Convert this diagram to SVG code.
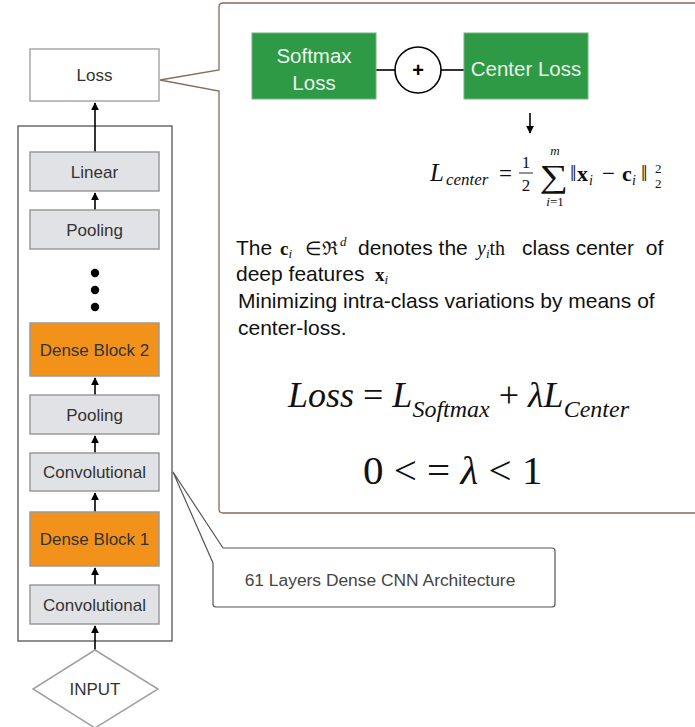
<svg xmlns="http://www.w3.org/2000/svg" width="695" height="727" viewBox="0 0 695 727">
  <style>
    .lbl { font-family: "Liberation Sans", Arial, sans-serif; font-size: 17px; fill: #333; text-anchor: middle; }
    .layer { fill: #E1E2E5; stroke: #9A9A9A; stroke-width: 1.5; }
    .dense { fill: #F3921B; stroke: #9A9A9A; stroke-width: 1.5; }
    .green { fill: #2F9A46; stroke: #6FB47F; stroke-width: 1; }
    .gtxt { font-family: "Liberation Sans", Arial, sans-serif; font-size: 20.5px; fill: #E9F4EA; text-anchor: middle; }
    .conn { stroke: #000; stroke-width: 1.6; fill: none; }
    .sans { font-family: "Liberation Sans", Arial, sans-serif; font-size: 21px; fill: #111; }
    .math { font-family: "Liberation Serif", "Times New Roman", serif; fill: #111; }
    .it { font-style: italic; }
    .bf { font-weight: bold; }
  </style>
  <defs>
    <marker id="arrow" viewBox="0 0 10 10" refX="9" refY="5" markerWidth="5" markerHeight="5" orient="auto-start-reverse">
      <path d="M0,0 L10,5 L0,10 z" fill="#000"/>
    </marker>
  </defs>

  <rect width="695" height="727" fill="#fff"/>

  <!-- network container -->
  <rect id="container" x="18" y="126" width="154" height="515" fill="#fff" stroke="#555" stroke-width="1.3"/>

  <!-- callout with the loss definition -->
  <g id="loss-callout">
    <path d="M223,3 H700 V513 H223 Q219,513 219,509 V91 L160,80 L219,70 V7 Q219,3 223,3 Z" fill="#fff" stroke="#8A6A58" stroke-width="1.3"/>
  </g>

  <!-- callout naming the architecture -->
  <g id="arch-callout">
    <path d="M223,548 H552 Q555,548 555,551 V604 Q555,607 552,607 H216 Q213,607 213,604 V563 L173,472 L223,548" fill="#fff" stroke="#555" stroke-width="1.2"/>
    <text x="380" y="586" font-family="Liberation Sans, Arial, sans-serif" font-size="17.4" fill="#444" text-anchor="middle">61 Layers Dense CNN Architecture</text>
  </g>

  <!-- connectors -->
  <g id="connectors">
    <line class="conn" x1="95" y1="152" x2="95" y2="103" marker-end="url(#arrow)"/>
    <line class="conn" x1="95" y1="210" x2="95" y2="193" marker-end="url(#arrow)"/>
    <line class="conn" x1="95" y1="395" x2="95" y2="378" marker-end="url(#arrow)"/>
    <line class="conn" x1="95" y1="453" x2="95" y2="436" marker-end="url(#arrow)"/>
    <line class="conn" x1="95" y1="512" x2="95" y2="493" marker-end="url(#arrow)"/>
    <line class="conn" x1="95" y1="585" x2="95" y2="568" marker-end="url(#arrow)"/>
    <line class="conn" x1="95" y1="650" x2="95" y2="626" marker-end="url(#arrow)"/>
    <line class="conn" x1="376" y1="70" x2="395" y2="70"/>
    <line class="conn" x1="441" y1="70" x2="464" y2="70"/>
    <line class="conn" x1="530" y1="113" x2="530" y2="133" marker-end="url(#arrow)"/>
  </g>

  <g id="loss">
    <rect x="30" y="49" width="129" height="52" fill="#fff" stroke="#A8A8A8" stroke-width="1.5"/>
    <text class="lbl" x="94.5" y="81">Loss</text>
  </g>
  <g id="linear">
    <rect class="layer" x="30" y="152" width="129" height="39"/>
    <text class="lbl" x="94.5" y="177.5">Linear</text>
  </g>
  <g id="pooling-2">
    <rect class="layer" x="30" y="210" width="129" height="39"/>
    <text class="lbl" x="94.5" y="235.5">Pooling</text>
  </g>
  <g id="ellipsis">
    <circle cx="95" cy="273" r="4.2" fill="#000"/>
    <circle cx="95" cy="290" r="4.2" fill="#000"/>
    <circle cx="95" cy="307" r="4.2" fill="#000"/>
  </g>
  <g id="dense-block-2">
    <rect class="dense" x="30" y="323" width="129" height="53"/>
    <text class="lbl" x="94.5" y="355.5">Dense Block 2</text>
  </g>
  <g id="pooling-1">
    <rect class="layer" x="30" y="395" width="129" height="39"/>
    <text class="lbl" x="94.5" y="420.5">Pooling</text>
  </g>
  <g id="conv-2">
    <rect class="layer" x="30" y="453" width="129" height="38"/>
    <text class="lbl" x="94.5" y="478">Convolutional</text>
  </g>
  <g id="dense-block-1">
    <rect class="dense" x="30" y="512" width="129" height="54"/>
    <text class="lbl" x="94.5" y="545">Dense Block 1</text>
  </g>
  <g id="conv-1">
    <rect class="layer" x="30" y="585" width="129" height="39"/>
    <text class="lbl" x="94.5" y="610.5">Convolutional</text>
  </g>
  <g id="input">
    <polygon points="95,650 158,689 95,728 33,689" fill="#fff" stroke="#A0A0A0" stroke-width="1.5"/>
    <text class="lbl" x="95" y="695">INPUT</text>
  </g>

  <g id="softmax-loss">
    <rect class="green" x="252" y="33" width="124" height="66"/>
    <text class="gtxt" x="314" y="63">Softmax</text>
    <text class="gtxt" x="314" y="90">Loss</text>
  </g>
  <g id="plus">
    <circle cx="418" cy="70" r="23" fill="#fff" stroke="#000" stroke-width="1.6"/>
    <text x="418" y="77" font-family="Liberation Sans, Arial, sans-serif" font-size="20" font-weight="bold" text-anchor="middle" fill="#000">+</text>
  </g>
  <g id="center-loss">
    <rect class="green" x="464" y="33" width="124" height="66"/>
    <text class="gtxt" x="526" y="76" font-size="21">Center Loss</text>
  </g>

  <!-- centre-loss formula -->
  <g id="center-formula" class="math">
    <text x="430" y="181" font-size="25" class="it">L</text>
    <text x="446" y="185" font-size="17" class="it">center</text>
    <text x="499" y="181" font-size="23">=</text>
    <text x="526" y="168" font-size="17" text-anchor="middle">1</text>
    <line x1="519" y1="173" x2="533" y2="173" stroke="#111" stroke-width="0.9"/>
    <text x="526" y="191" font-size="17" text-anchor="middle">2</text>
    <text transform="translate(554,187) scale(1.25,1)" font-size="32" text-anchor="middle">∑</text>
    <text x="555" y="155" font-size="13" class="it" text-anchor="middle">m</text>
    <text x="555" y="206" font-size="13" text-anchor="middle"><tspan class="it">i</tspan>=1</text>
    <text x="570" y="181" font-size="23">‖</text>
    <text x="577" y="181" font-size="22" class="bf">x</text>
    <text x="589" y="185" font-size="14" class="it">i</text>
    <text x="602" y="181" font-size="23">−</text>
    <text x="622" y="181" font-size="22" class="bf">c</text>
    <text x="632" y="185" font-size="14" class="it">i</text>
    <text x="641" y="181" font-size="23">‖</text>
    <text x="655" y="173" font-size="13">2</text>
    <text x="655" y="188" font-size="13">2</text>
  </g>

  <!-- description -->
  <g id="description">
    <text class="sans" x="236" y="255">The</text>
    <text class="math" x="280" y="255" font-size="19"><tspan class="bf">c</tspan><tspan font-size="13" dy="3" class="it">i</tspan></text>
    <text class="math" x="305" y="255" font-size="19">∈</text>
    <text class="math" x="322" y="255" font-size="19">ℜ</text>
    <text class="math it" x="340" y="246" font-size="13">d</text>
    <text class="sans" x="358" y="255">denotes the</text>
    <text class="math" x="477" y="255" font-size="20" fill="#777"><tspan class="it">y</tspan><tspan font-size="13" dy="3" class="it">i</tspan><tspan dy="-3">th</tspan></text>
    <text class="sans" x="522" y="255" xml:space="preserve">class center  of</text>
    <text class="sans" x="236" y="281">deep features</text>
    <text class="math" x="375" y="281" font-size="19"><tspan class="bf">x</tspan><tspan font-size="13" dy="3" class="it">i</tspan></text>
    <text class="sans" x="238" y="308">Minimizing intra-class variations by means of</text>
    <text class="sans" x="238" y="335">center-loss.</text>
  </g>

  <!-- total loss -->
  <g id="total-loss" class="math">
    <text x="288" y="407" font-size="36"><tspan class="it">Loss</tspan> = <tspan class="it">L</tspan><tspan class="it" font-size="24" dy="10">Softmax</tspan><tspan dy="-10"> + </tspan><tspan class="it">λL</tspan><tspan class="it" font-size="24" dy="10">Center</tspan></text>
    <text x="363" y="484" font-size="41">0 &lt; = <tspan class="it">λ</tspan> &lt; 1</text>
  </g>
</svg>
